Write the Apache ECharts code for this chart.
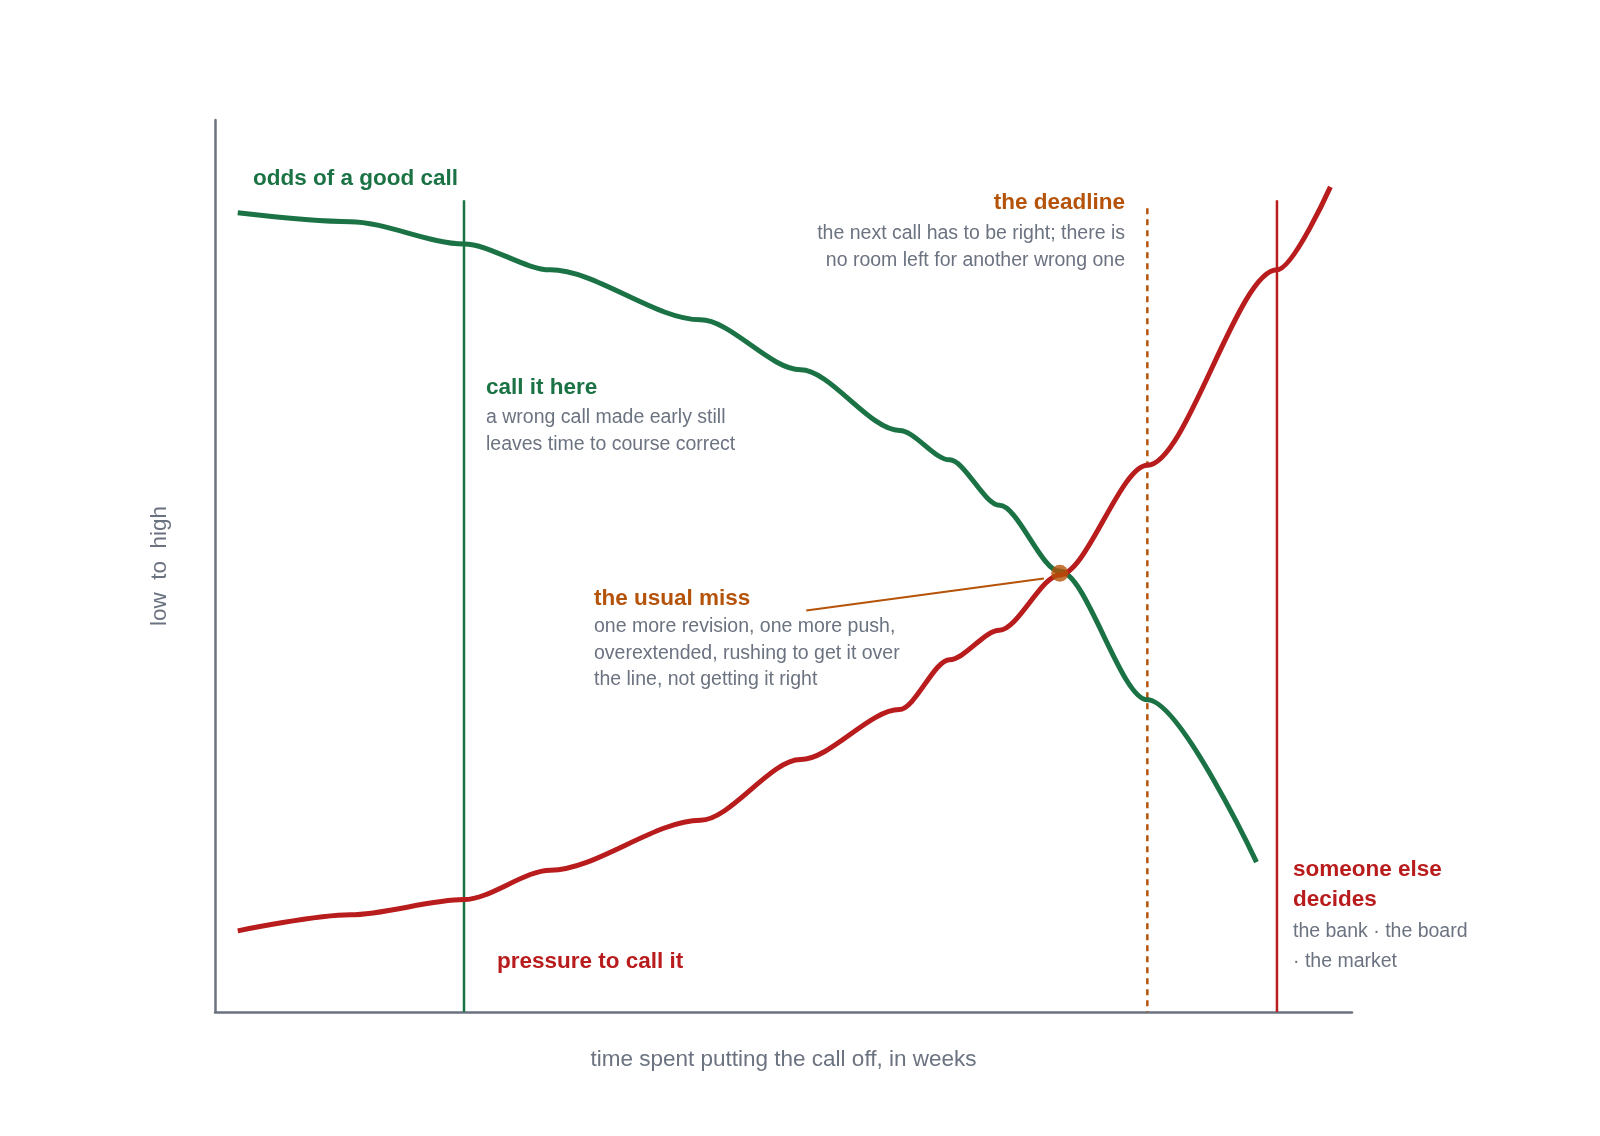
<!DOCTYPE html>
<html>
<head>
<meta charset="utf-8">
<script src="https://cdn.jsdelivr.net/npm/echarts@6/dist/echarts.min.js"></script>
<style>html,body{margin:0;background:#fff}#chart{width:1600px;height:1136px}</style>
</head>
<body>
<div id="chart"></div>
<script>
// curve points (x: 0-100 time, y: 0-100 low to high)
const oddsCurve = [[2.0,89.6],[11.9,88.6],[21.9,86.1],[29.5,83.2],[42.7,77.6],[51.5,72.0],[60.2,65.2],[64.6,61.9],[69.0,56.8],[74.3,49.4],[82.0,35.0],[91.6,16.8]];
const pressureCurve = [[2.0,9.1],[11.9,10.9],[21.9,12.6],[29.5,15.9],[42.7,21.5],[51.5,28.3],[60.2,33.9],[64.6,39.5],[69.0,42.8],[74.3,49.0],[82.0,61.3],[93.4,83.2],[98.1,92.5]];
const callItHere = [[21.9,91.0],[21.9,0]];
const deadline = [[82.0,90.1],[82.0,0]];
const someoneElse = [[93.4,91.0],[93.4,0]];
const usualMiss = [[74.3,49.2]];
const missLeader = [[52.0,45.0],[72.9,48.6]];

const green = '#1b7345', red = '#b91c1c', orange = '#b45309', gray = '#6b7280';
const font = 'Liberation Sans, Arial, sans-serif';

let chart = echarts.init(document.getElementById('chart'));

function txt(x, y, text, color, bold, align) {
    return {
        type: 'text', x: x, y: y,
        style: { text: text, fill: color, font: (bold ? 'bold 22.5px ' : '19.5px ') + font,
                 textAlign: align || 'left', textVerticalAlign: 'middle' }
    };
}

option = {
    animation: false,
    grid: { left: 215, top: 120, right: 248, bottom: 124 },
    xAxis: {
        type: 'value', min: 0, max: 100,
        name: 'time spent putting the call off, in weeks',
        nameLocation: 'middle', nameGap: 36,
        nameTextStyle: { color: gray, fontSize: 22.5, fontFamily: font },
        axisLine: { lineStyle: { color: gray, width: 2.5 } },
        axisTick: { show: false }, axisLabel: { show: false }, splitLine: { show: false }
    },
    yAxis: {
        type: 'value', min: 0, max: 100,
        name: 'low  to  high',
        nameLocation: 'middle', nameGap: 44,
        nameTextStyle: { color: gray, fontSize: 22.5, fontFamily: font },
        axisLine: { show: true, lineStyle: { color: gray, width: 2.5 } },
        axisTick: { show: false }, axisLabel: { show: false }, splitLine: { show: false }
    },
    series: [
        { type: 'line', data: callItHere, symbol: 'none', lineStyle: { color: green, width: 2.5 } },
        { type: 'line', data: deadline, symbol: 'none', lineStyle: { color: orange, width: 2.5, type: [6, 5] } },
        { type: 'line', data: someoneElse, symbol: 'none', lineStyle: { color: red, width: 2.5 } },
        { type: 'line', data: oddsCurve, smooth: 0.3, smoothMonotone: 'x', symbol: 'none', lineStyle: { color: green, width: 5 } },
        { type: 'line', data: pressureCurve, smooth: 0.3, smoothMonotone: 'x', symbol: 'none', lineStyle: { color: red, width: 5 } },
        { type: 'line', data: missLeader, symbol: 'none', lineStyle: { color: orange, width: 2 } },
        { type: 'scatter', data: usualMiss, symbolSize: 17, itemStyle: { color: orange }, z: 5 }
    ],
    graphic: [
        txt(253, 179, 'odds of a good call', green, true),
        txt(1125, 203, 'the deadline', orange, true, 'right'),
        txt(1125, 234, 'the next call has to be right; there is', gray, false, 'right'),
        txt(1125, 261, 'no room left for another wrong one', gray, false, 'right'),
        txt(486, 388, 'call it here', green, true),
        txt(486, 418, 'a wrong call made early still', gray),
        txt(486, 445, 'leaves time to course correct', gray),
        txt(594, 599, 'the usual miss', orange, true),
        txt(594, 627, 'one more revision, one more push,', gray),
        txt(594, 654, 'overextended, rushing to get it over', gray),
        txt(594, 680, 'the line, not getting it right', gray),
        txt(497, 962, 'pressure to call it', red, true),
        txt(1293, 870, 'someone else', red, true),
        txt(1293, 900, 'decides', red, true),
        txt(1293, 932, 'the bank · the board', gray),
        txt(1293, 962, '· the market', gray)
    ]
};
chart.setOption(option);
</script>
</body>
</html>
